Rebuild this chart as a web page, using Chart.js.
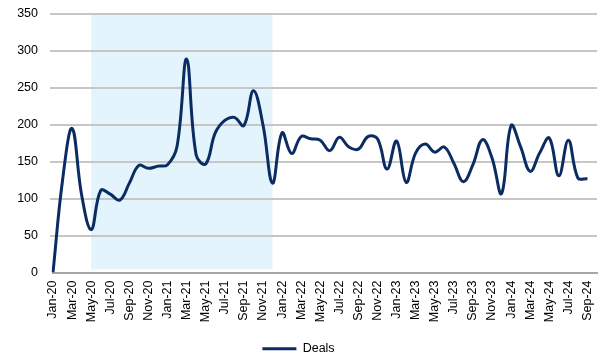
<!DOCTYPE html>
<html>
<head>
<meta charset="utf-8">
<script src="https://cdn.jsdelivr.net/npm/chart.js@4"></script>
<style>
  html, body { margin: 0; padding: 0; background: #fff; }
</style>
</head>
<body>
<canvas id="chart" width="607" height="358"></canvas>
<script>
// Months Jan-20 .. Sep-24 (trailing blank slot keeps the last point off the edge)
const meses = [
  "Jan-20","Feb-20","Mar-20","Apr-20","May-20","Jun-20","Jul-20","Aug-20","Sep-20","Oct-20","Nov-20","Dec-20",
  "Jan-21","Feb-21","Mar-21","Apr-21","May-21","Jun-21","Jul-21","Aug-21","Sep-21","Oct-21","Nov-21","Dec-21",
  "Jan-22","Feb-22","Mar-22","Apr-22","May-22","Jun-22","Jul-22","Aug-22","Sep-22","Oct-22","Nov-22","Dec-22",
  "Jan-23","Feb-23","Mar-23","Apr-23","May-23","Jun-23","Jul-23","Aug-23","Sep-23","Oct-23","Nov-23","Dec-23",
  "Jan-24","Feb-24","Mar-24","Apr-24","May-24","Jun-24","Jul-24","Aug-24","Sep-24",""
];

const deals = [
  0, 125, 195, 105, 58, 111, 106, 98, 121, 145, 141, 144,
  146, 171, 289, 159, 147, 189, 206, 210, 199, 246, 200, 121,
  189, 161, 184, 181, 179, 165, 183, 170, 167, 184, 181, 140,
  178, 122, 162, 174, 163, 170, 148, 123, 146, 180, 155, 107,
  199, 170, 137, 162, 182, 131, 179, 128, 127
];

const yTicks = [0, 50, 100, 150, 200, 250, 300, 350];

// Shaded period
const faixaInicio = "May-20";
const faixaFim = "Dec-21";

const COR_LINHA = "#0b2b63";
const COR_FAIXA = "#e3f4fc";

// Plugin da faixa sombreada
const faixaPlugin = {
  id: "faixa",
  beforeDatasetsDraw(chart) {
    const { ctx, chartArea, scales } = chart;
    const x0 = scales.x.getPixelForValue(meses.indexOf(faixaInicio));
    const x1 = scales.x.getPixelForValue(meses.indexOf(faixaFim));
    const yTop = scales.y.getPixelForValue(yTicks[yTicks.length - 1]);
    ctx.save();
    ctx.fillStyle = COR_FAIXA;
    ctx.fillRect(x0, yTop, x1 - x0, chartArea.bottom - 3 - yTop);
    ctx.restore();
  }
};

// linhas de grade por cima da faixa
const gridPlugin = {
  id: "gridSobre",
  beforeDatasetsDraw(chart) {
    const { ctx, chartArea, scales } = chart;
    ctx.save();
    ctx.strokeStyle = "#c6c6c6";
    ctx.lineWidth = 2;
    yTicks.forEach(v => {
      if (v === 0) return;
      const y = Math.round(scales.y.getPixelForValue(v));
      ctx.beginPath();
      ctx.moveTo(chartArea.left - 3, y);
      ctx.lineTo(chartArea.right, y);
      ctx.stroke();
    });
    ctx.restore();
  }
};

Chart.defaults.font.family = "'Liberation Sans', Arial, sans-serif";
Chart.defaults.font.size = 12.5;
Chart.defaults.color = "#000";

new Chart(document.getElementById("chart"), {
  type: "line",
  data: {
    labels: meses,
    datasets: [{
      label: "Deals",
      data: deals,
      borderColor: COR_LINHA,
      backgroundColor: COR_LINHA,
      borderWidth: 3,
      pointRadius: 0,
      tension: 0.4,
      fill: false
    }]
  },
  options: {
    responsive: false,
    animation: false,
    devicePixelRatio: 1,
    layout: { padding: { top: 14, right: 10, left: 0, bottom: -7 } },
    scales: {
      x: {
        offset: false,
        grid: { display: false, drawTicks: false },
        border: { display: true, color: "#a6a6a6", width: 2 },
        ticks: {
          autoSkip: false,
          maxRotation: 90,
          minRotation: 90,
          padding: 8,
          callback: (v, i) => (i % 2 === 0 ? meses[i] : "")
        },
        afterFit: s => {
          s.height = 66;
          s.paddingLeft = 0; s.paddingRight = 0; s.paddingTop = 0; s.paddingBottom = 0;
        }
      },
      y: {
        min: 0,
        max: 350,
        grid: { display: false, drawTicks: false },
        border: { display: false },
        ticks: { stepSize: 50, padding: 15 },
        afterFit: s => {
          s.width = 53;
          s.paddingLeft = 0; s.paddingRight = 0; s.paddingTop = 0; s.paddingBottom = 0;
        }
      }
    },
    plugins: {
      tooltip: { enabled: false },
      legend: {
        position: "bottom",
        labels: {
          boxWidth: 34,
          boxHeight: 3,
          padding: 4,
          font: { size: 12.5 },
          generateLabels: chart => Chart.defaults.plugins.legend.labels.generateLabels(chart)
            .map(l => ({ ...l, lineWidth: 0, fillStyle: COR_LINHA }))
        }
      }
    }
  },
  plugins: [faixaPlugin, gridPlugin]
});
</script>
</body>
</html>
